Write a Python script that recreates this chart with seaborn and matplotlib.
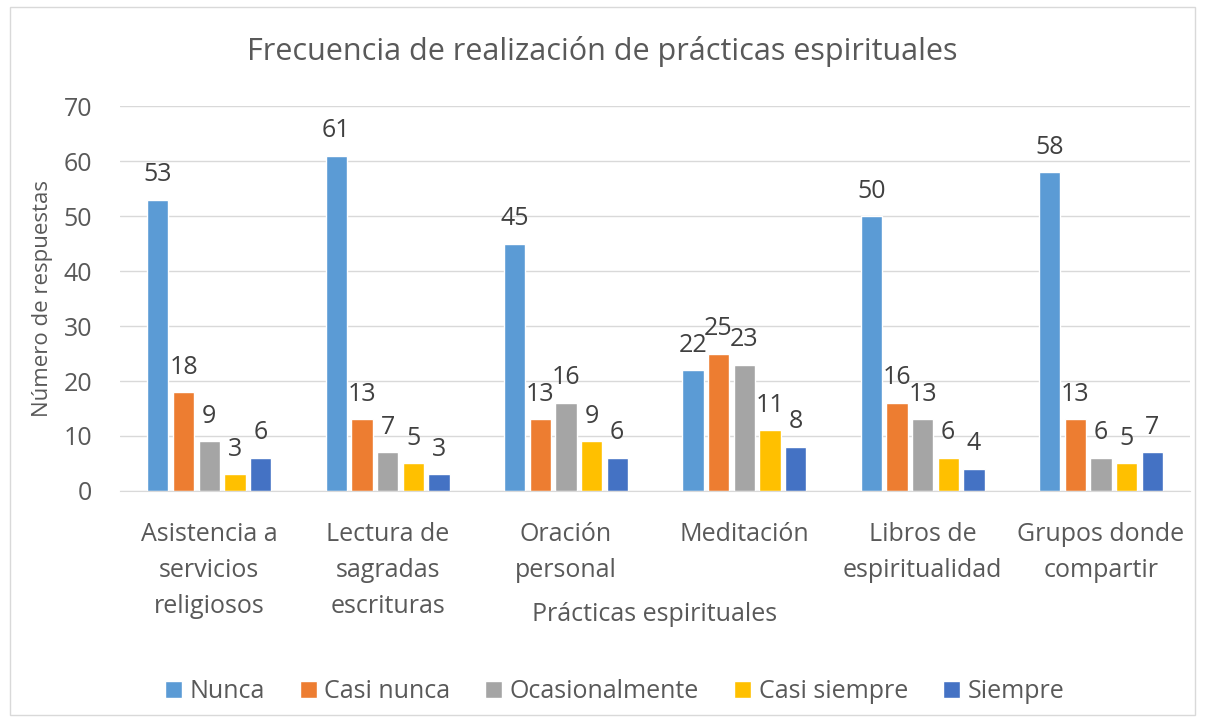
import pandas as pd
import matplotlib.pyplot as plt
import seaborn as sns
from matplotlib.patches import Rectangle

# Datos
practicas = ['Asistencia a\nservicios\nreligiosos', 'Lectura de\nsagradas\nescrituras',
             'Oración\npersonal', 'Meditación', 'Libros de\nespiritualidad',
             'Grupos donde\ncompartir']
frecuencias = ['Nunca', 'Casi nunca', 'Ocasionalmente', 'Casi siempre', 'Siempre']
nunca = [53, 61, 45, 22, 50, 58]
casi_nunca = [18, 13, 13, 25, 16, 13]
ocasionalmente = [9, 7, 16, 23, 13, 6]
casi_siempre = [3, 5, 9, 11, 6, 5]
siempre = [6, 3, 6, 8, 4, 7]

colores = ['#5B9BD5', '#ED7D31', '#A5A5A5', '#FFC000', '#4472C4']

series = [nunca, casi_nunca, ocasionalmente, casi_siempre, siempre]
filas = []
for f, vals in zip(frecuencias, series):
    for p, v in zip(practicas, vals):
        filas.append({'Práctica': p, 'Frecuencia': f, 'Respuestas': v})
df = pd.DataFrame(filas)

sns.set_style('white')
plt.rcParams['font.family'] = ['Open Sans', 'DejaVu Sans']
gris = '#595959'

fig = plt.figure(figsize=(12.05, 7.22), dpi=100)
ax = fig.add_axes([0.0996, 0.320, 0.888, 0.533])

sns.barplot(data=df, x='Práctica', y='Respuestas', hue='Frecuencia',
            hue_order=frecuencias, palette=colores, width=0.72, gap=0.17,
            saturation=1, ax=ax, legend=True)

for cont in ax.containers:
    ax.bar_label(cont, padding=9, fontsize=18, color='#404040')

ax.set_ylim(0, 70)
ax.set_yticks(range(0, 71, 10))
ax.set_xlim(-0.5, 5.5)
ax.yaxis.grid(True, color='#D9D9D9', linewidth=1)
ax.set_axisbelow(True)
for s in ['top', 'right', 'left']:
    ax.spines[s].set_visible(False)
ax.spines['bottom'].set_color('#D9D9D9')
ax.tick_params(axis='both', length=0, labelsize=18, labelcolor=gris)
ax.tick_params(axis='x', pad=22)
ax.tick_params(axis='y', pad=20)
for t in ax.get_xticklabels():
    t.set_linespacing(1.6)

ax.set_xlabel('Prácticas espirituales', fontsize=18, color=gris, va='center')
ax.xaxis.set_label_coords(0.5, -0.322)
ax.set_ylabel('Número de respuestas', fontsize=16, color=gris, labelpad=8)
fig.text(0.5, 0.928, 'Frecuencia de realización de prácticas espirituales',
         ha='center', va='center', fontsize=22, color=gris)

handles, labels = ax.get_legend_handles_labels()
ax.legend_.remove()
fig.legend(handles, labels, loc='center', bbox_to_anchor=(0.51, 0.042), ncol=5,
           frameon=False, fontsize=18, handlelength=0.68, handleheight=0.68,
           handletextpad=0.3, columnspacing=1.4, labelcolor=gris)

fig.patches.append(Rectangle((0.008, 0.01), 0.984, 0.98, transform=fig.transFigure,
                             fill=False, edgecolor='#D9D9D9', linewidth=1))

fig.savefig('out.png', dpi=100)
